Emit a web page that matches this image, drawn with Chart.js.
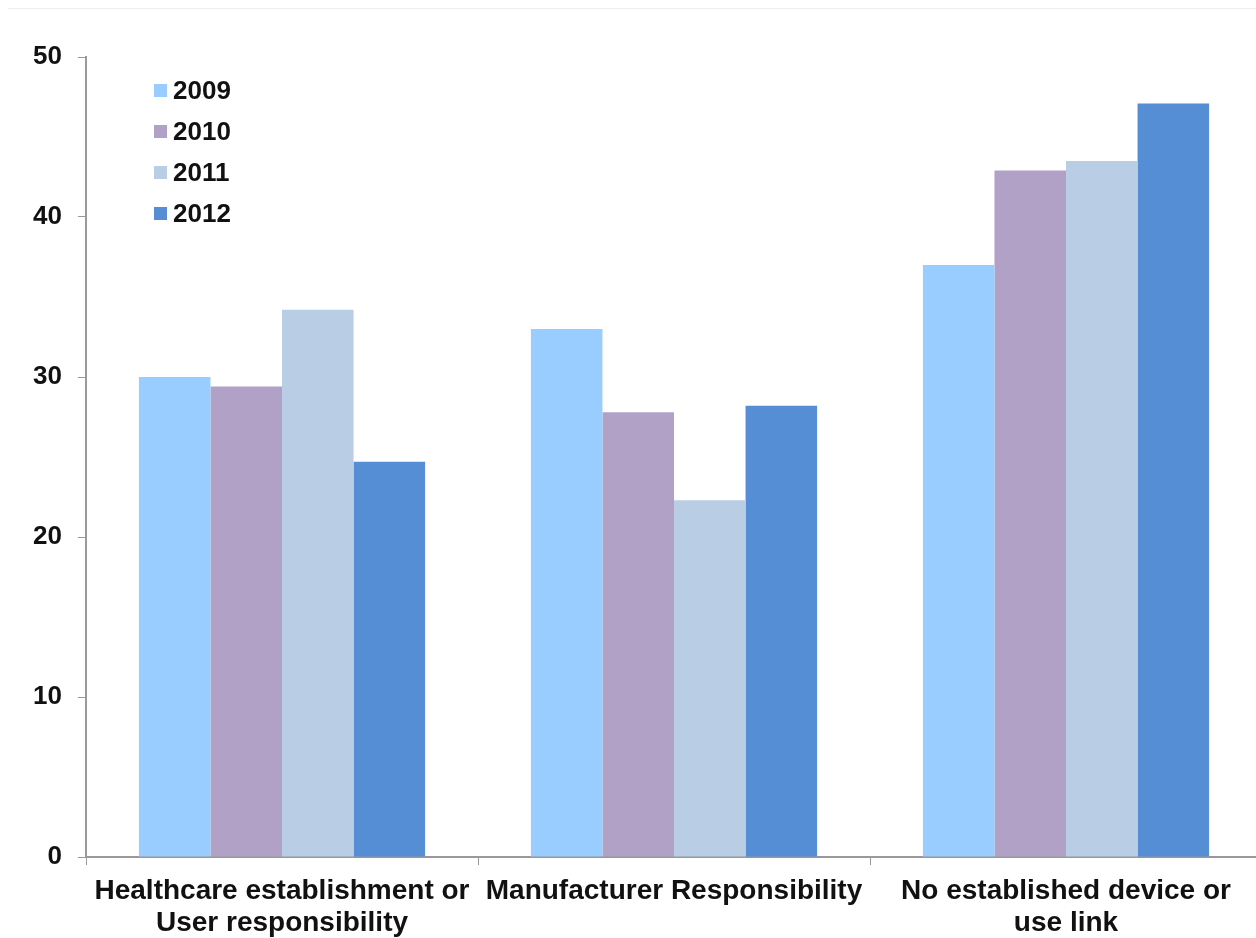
<!DOCTYPE html>
<html>
<head>
<meta charset="utf-8">
<script src="https://cdn.jsdelivr.net/npm/chart.js@4"></script>
<style>
  html, body { margin: 0; padding: 0; background: #fff; overflow: hidden; }
  #wrap { position: relative; width: 1262px; height: 938px; }
  #topline { position: absolute; left: 8px; right: 0; top: 8px; border-top: 1px solid #eeeeee; }
  #legend { position: absolute; left: 154px; top: 70px; font: bold 26px "Liberation Sans", Arial, sans-serif; color: #111; }
  #legend div { height: 41px; line-height: 40px; white-space: nowrap; }
  #legend span { display: inline-block; width: 13px; height: 13px; margin-right: 6px; vertical-align: 2px; }
</style>
</head>
<body>
<div id="wrap">
  <div id="topline"></div>
  <canvas id="chart" width="1262" height="938"></canvas>
  <div id="legend"></div>
</div>
<script>
// Categorías y series
const categories = [
    ['Healthcare establishment or', 'User responsibility'],
    ['Manufacturer Responsibility'],
    ['No established device or', 'use link']
];
const years = ['2009', '2010', '2011', '2012'];
const colors = ['#99ccff', '#b2a1c7', '#b9cde5', '#558ed5'];
const values2009 = [30.0, 33.0, 37.0];
const values2010 = [29.4, 27.8, 42.9];
const values2011 = [34.2, 22.3, 43.5];
const values2012 = [24.7, 28.2, 47.1];
const yTicks = [0, 10, 20, 30, 40, 50];

const series = [values2009, values2010, values2011, values2012];

const datasets = years.map((year, i) => ({
    label: year,
    data: series[i],
    backgroundColor: colors[i],
    borderWidth: 0,
    categoryPercentage: 0.73,
    barPercentage: 1.0
}));

// Leyenda dentro del gráfico (arriba a la izquierda)
const legend = document.getElementById('legend');
years.forEach((year, i) => {
    const row = document.createElement('div');
    const box = document.createElement('span');
    box.style.background = colors[i];
    row.appendChild(box);
    row.appendChild(document.createTextNode(year));
    legend.appendChild(row);
});

const family = '"Liberation Sans", Arial, sans-serif';

new Chart(document.getElementById('chart'), {
    type: 'bar',
    data: { labels: categories, datasets: datasets },
    options: {
        responsive: false,
        animation: false,
        layout: { padding: { top: 57, right: 0, left: 0, bottom: 0 } },
        plugins: {
            legend: { display: false },
            tooltip: { enabled: false }
        },
        scales: {
            x: {
                grid: { display: true, drawOnChartArea: false, offset: true, tickLength: 8, color: '#999' },
                border: { display: true, color: '#999', width: 2 },
                ticks: {
                    color: '#111',
                    font: { family: family, size: 28, weight: 'bold', lineHeight: '32px' },
                    padding: 10, maxRotation: 0, autoSkip: false
                },
                afterFit: scale => { scale.height = 81; }
            },
            y: {
                min: 0,
                max: 50,
                afterBuildTicks: scale => { scale.ticks = yTicks.map(v => ({ value: v })); },
                grid: { display: true, drawOnChartArea: false, tickLength: 8, color: '#999' },
                border: { display: true, color: '#999', width: 2 },
                ticks: { color: '#111', font: { family: family, size: 26, weight: 'bold' }, padding: 16 },
                afterFit: scale => { scale.width = 86; }
            }
        }
    }
});
</script>
</body>
</html>
